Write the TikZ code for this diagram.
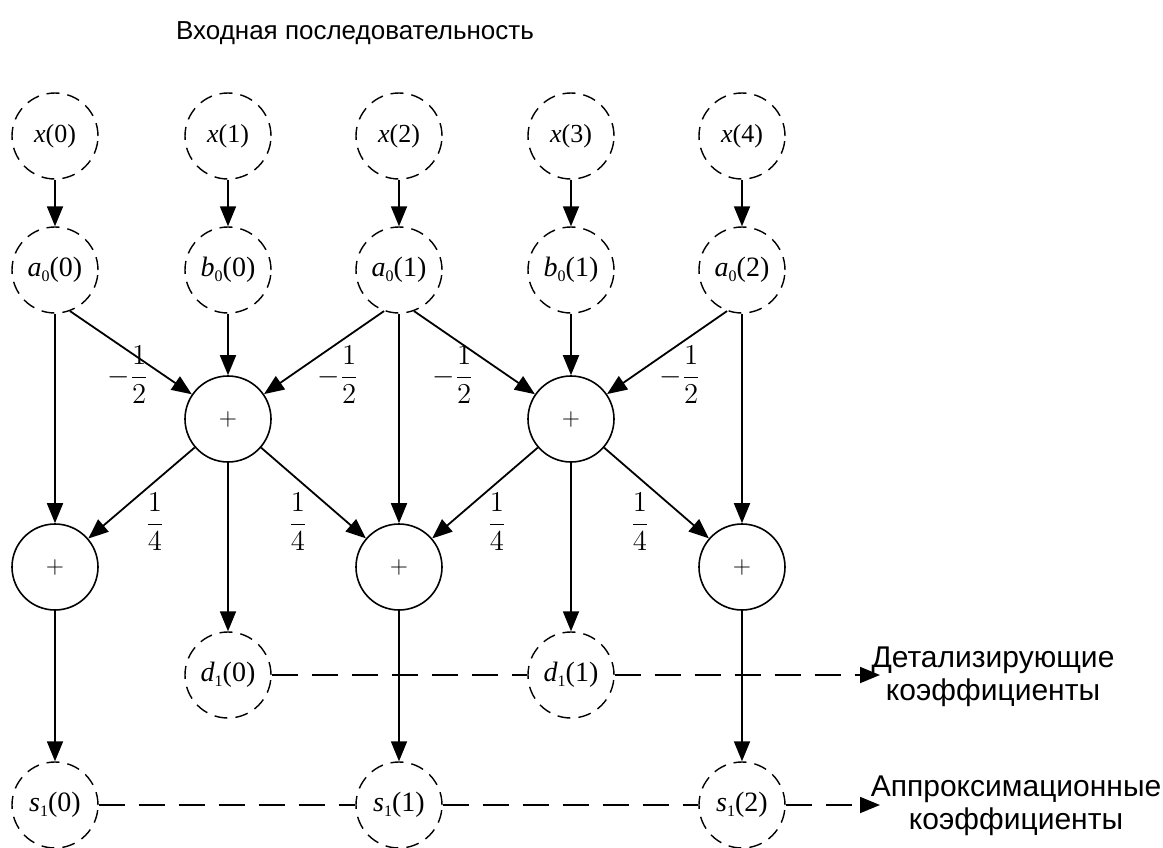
\documentclass[tikz,border=0pt]{standalone}
\usepackage{fontspec}
\setmainfont{Liberation Serif}
\newfontfamily\rusans{Liberation Sans}
\usetikzlibrary{arrows.meta}
\newcommand{\sig}[3]{\textit{#1}\raisebox{-2.5pt}{\fontsize{8}{8}\selectfont #2}(#3)}

\begin{document}
\begin{tikzpicture}[x=0.5pt, y=-0.5pt,
        dnode/.style={draw, shape=circle, dash pattern=on 6.5pt off 4pt, line width=0.7pt,
            minimum size=43pt, inner sep=0pt, font=\fontsize{14}{16}\selectfont},
        snode/.style={draw, shape=circle, line width=0.8pt, minimum size=43pt,
            inner sep=0pt, font=\fontsize{12}{14}\selectfont},
        arr/.style={-{Triangle[length=10pt,width=8pt]}, line width=0.9pt},
        ddash/.style={dash pattern=on 13pt off 7pt, line width=0.9pt},
        coef/.style={font=\fontsize{15}{17}\selectfont},
        ru/.style={font=\rusans\fontsize{15}{16.5}\selectfont, align=center}]
        \useasboundingbox (0,0) rectangle (1163,847);

        \node (T) at (355, 33) [ru, font=\rusans\fontsize{13}{15}\selectfont] {Входная последовательность};

        \node (x0) at (55, 136) [dnode, font=\fontsize{13}{15}\selectfont] {\textit{x}(0)};
        \node (x1) at (228, 136) [dnode, font=\fontsize{13}{15}\selectfont] {\textit{x}(1)};
        \node (x2) at (399, 136) [dnode, font=\fontsize{13}{15}\selectfont] {\textit{x}(2)};
        \node (x3) at (571, 136) [dnode, font=\fontsize{13}{15}\selectfont] {\textit{x}(3)};
        \node (x4) at (742, 136) [dnode, font=\fontsize{13}{15}\selectfont] {\textit{x}(4)};

        \node (a0) at (55, 270) [dnode] {\sig{a}{0}{0}};
        \node (b0) at (228, 270) [dnode] {\sig{b}{0}{0}};
        \node (a1) at (399, 270) [dnode] {\sig{a}{0}{1}};
        \node (b1) at (571, 270) [dnode] {\sig{b}{0}{1}};
        \node (a2) at (742, 270) [dnode] {\sig{a}{0}{2}};

        \node (p1) at (228, 419) [snode] {$+$};
        \node (p2) at (571, 419) [snode] {$+$};

        \node (q1) at (55, 567) [snode] {$+$};
        \node (q2) at (399, 567) [snode] {$+$};
        \node (q3) at (742, 567) [snode] {$+$};

        \node (d0) at (228, 675) [dnode] {\sig{d}{1}{0}};
        \node (d1) at (571, 675) [dnode] {\sig{d}{1}{1}};

        \node (s0) at (55, 805) [dnode] {\sig{s}{1}{0}};
        \node (s1) at (399, 805) [dnode] {\sig{s}{1}{1}};
        \node (s2) at (742, 805) [dnode] {\sig{s}{1}{2}};

        % weights
        \node (m1) at (128, 375) [coef] {$\displaystyle -\frac{1}{2}$};
        \node (m2) at (338, 375) [coef] {$\displaystyle -\frac{1}{2}$};
        \node (m3) at (453, 375) [coef] {$\displaystyle -\frac{1}{2}$};
        \node (m4) at (680, 375) [coef] {$\displaystyle -\frac{1}{2}$};
        \node (n1) at (155, 522) [coef] {$\displaystyle \frac{1}{4}$};
        \node (n2) at (298, 522) [coef] {$\displaystyle \frac{1}{4}$};
        \node (n3) at (497, 522) [coef] {$\displaystyle \frac{1}{4}$};
        \node (n4) at (640, 522) [coef] {$\displaystyle \frac{1}{4}$};

        \node (D) at (993, 677) [ru] {Детализирующие\\коэффициенты};
        \node (A) at (1016, 806) [ru] {Аппроксимационные\\коэффициенты};
        \coordinate (dend) at (880, 675);
        \coordinate (send) at (880, 805);

        \draw[arr] (x0) -- (a0);
        \draw[arr] (x1) -- (b0);
        \draw[arr] (x2) -- (a1);
        \draw[arr] (x3) -- (b1);
        \draw[arr] (x4) -- (a2);

        \draw[arr] (a0.-70) -- (p1);
        \draw[arr] (b0) -- (p1);
        \draw[arr] (a1.-110) -- (p1);
        \draw[arr] (a1.-70) -- (p2);
        \draw[arr] (b1) -- (p2);
        \draw[arr] (a2.-110) -- (p2);

        \draw[arr] (a0) -- (q1);
        \draw[arr] (a1) -- (q2);
        \draw[arr] (a2) -- (q3);

        \draw[arr] (p1) -- (q1);
        \draw[arr] (p1) -- (d0);
        \draw[arr] (p1) -- (q2);
        \draw[arr] (p2) -- (q2);
        \draw[arr] (p2) -- (d1);
        \draw[arr] (p2) -- (q3);

        \draw[ddash] (d0) -- (d1);
        \draw[ddash, arr] (d1) -- (dend);
        \draw[ddash] (s0) -- (s1);
        \draw[ddash] (s1) -- (s2);
        \draw[ddash, arr] (s2) -- (send);

        \draw[arr] (q1) -- (s0);
        \draw[arr] (q2) -- (s1);
        \draw[arr] (q3) -- (s2);
    \end{tikzpicture}
\end{document}
